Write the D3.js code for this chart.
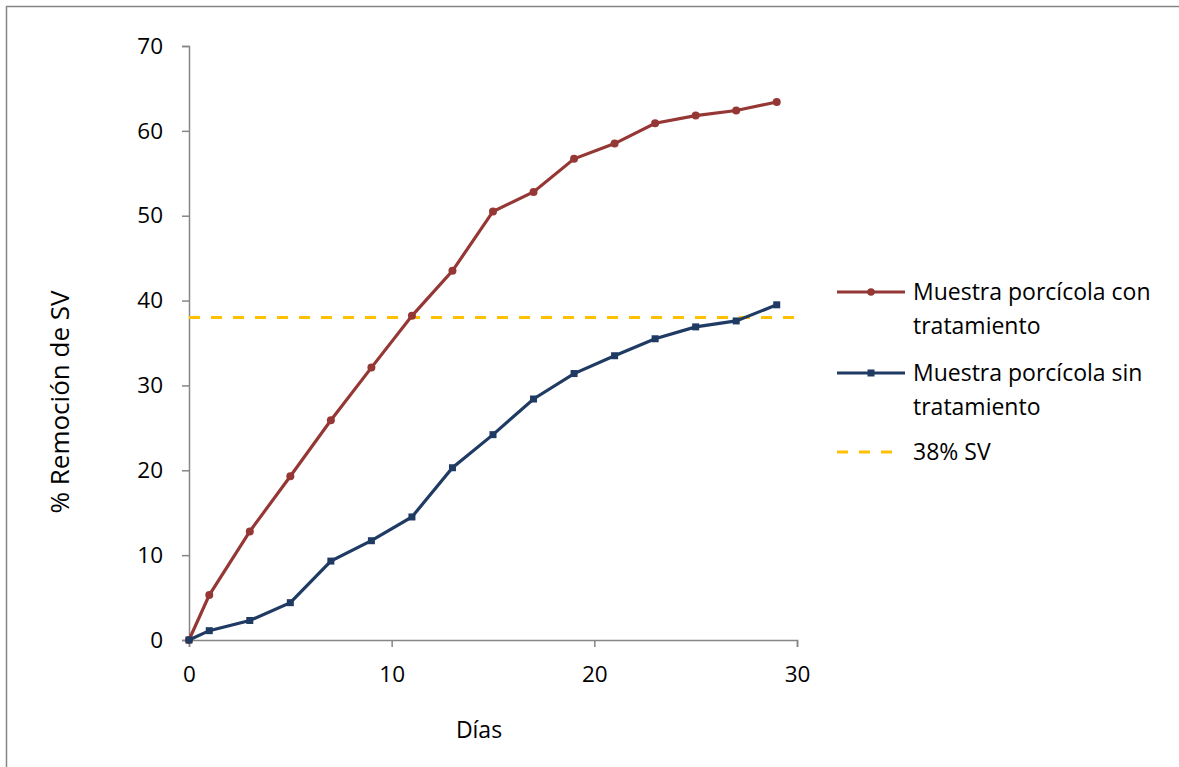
<!DOCTYPE html>
<html>
<head>
<meta charset="utf-8">
<script src="https://cdn.jsdelivr.net/npm/d3@7"></script>
<style>
  html, body { margin: 0; padding: 0; background: #fff; }
  svg { display: block; font-family: "Open Sans", Lato, sans-serif; }
</style>
</head>
<body>
<svg id="chart" width="1179" height="767"></svg>
<script>
// Days of sampling
const dias = [0, 1, 3, 5, 7, 9, 11, 13, 15, 17, 19, 21, 23, 25, 27, 29];
// % removal of volatile solids (SV)
const conTratamiento = [0, 5.3, 12.8, 19.3, 25.9, 32.1, 38.2, 43.5, 50.5, 52.8, 56.7, 58.5, 60.9, 61.8, 62.4, 63.4];
const sinTratamiento = [0, 1.1, 2.3, 4.4, 9.3, 11.7, 14.5, 20.3, 24.2, 28.4, 31.4, 33.5, 35.5, 36.9, 37.6, 39.5];
const umbral = 38;
const xTicks = [0, 10, 20, 30];
const yTicks = [0, 10, 20, 30, 40, 50, 60, 70];

const svg = d3.select("#chart");
const axisColor = "#868686";
const red = "#953735", blue = "#1F3B63", yellow = "#FFC000";

// outer chart border
svg.append("rect").attr("x", 6.5).attr("y", 6.5).attr("width", 1200).attr("height", 800)
  .attr("fill", "none").attr("stroke", axisColor).attr("stroke-width", 1.5);

const x = d3.scaleLinear().domain([0, 30]).range([189, 797]);
const y = d3.scaleLinear().domain([0, 70]).range([640, 46]);

// axes
const yAxis = svg.append("g").attr("transform", `translate(${x(0)},0)`)
  .call(d3.axisLeft(y).tickValues(yTicks).tickSize(7).tickPadding(19));
const xAxis = svg.append("g").attr("transform", `translate(0,${y(0)})`)
  .call(d3.axisBottom(x).tickValues(xTicks).tickSize(7).tickPadding(21));
[xAxis, yAxis].forEach(g => {
  g.select(".domain").attr("stroke", axisColor).attr("stroke-width", 1.5);
  g.selectAll(".tick line").attr("stroke", axisColor).attr("stroke-width", 1.5);
  g.selectAll(".tick text").attr("fill", "#000").style("font-size", "22.5px")
    .style("font-family", "'Open Sans', Lato, sans-serif");
});
xAxis.selectAll(".tick text").attr("dy", null).attr("y", 42);

// 38% SV reference line
svg.append("line")
  .attr("x1", x(0)).attr("x2", x(30.2))
  .attr("y1", y(umbral)).attr("y2", y(umbral))
  .attr("stroke", yellow).attr("stroke-width", 3)
  .attr("stroke-dasharray", "11,11");

const line = d3.line().x((d, i) => x(dias[i])).y(d => y(d));

// series with treatment (circle markers)
svg.append("path").datum(conTratamiento).attr("d", line)
  .attr("fill", "none").attr("stroke", red).attr("stroke-width", 3.2);
svg.selectAll(".pc").data(conTratamiento).enter().append("circle")
  .attr("cx", (d, i) => x(dias[i])).attr("cy", d => y(d)).attr("r", 4).attr("fill", red);

// series without treatment (square markers)
svg.append("path").datum(sinTratamiento).attr("d", line)
  .attr("fill", "none").attr("stroke", blue).attr("stroke-width", 3.2);
svg.selectAll(".ps").data(sinTratamiento).enter().append("rect")
  .attr("x", (d, i) => x(dias[i]) - 3.5).attr("y", d => y(d) - 3.5)
  .attr("width", 7).attr("height", 7).attr("fill", blue);

// axis titles
svg.append("text").attr("x", 479).attr("y", 738).attr("text-anchor", "middle")
  .style("font-size", "23px").text("Días");
svg.append("text").attr("transform", "translate(69,402) rotate(-90)")
  .attr("text-anchor", "middle").style("font-size", "26px").text("% Remoción de SV");

// legend
const legend = svg.append("g");
const lx1 = 837, lx2 = 905, tx = 913;
const rows = [
  { yLine: 292, color: red, marker: "circle", lines: ["Muestra porcícola con", "tratamiento"] },
  { yLine: 373, color: blue, marker: "square", lines: ["Muestra porcícola sin", "tratamiento"] },
  { yLine: 452, color: yellow, marker: "dash", lines: ["38% SV"] }
];
rows.forEach(r => {
  legend.append("line").attr("x1", lx1).attr("x2", r.marker === "dash" ? 893 : lx2)
    .attr("y1", r.yLine).attr("y2", r.yLine)
    .attr("stroke", r.color).attr("stroke-width", 3)
    .attr("stroke-dasharray", r.marker === "dash" ? "11,11" : null);
  if (r.marker === "circle") {
    legend.append("circle").attr("cx", (lx1 + lx2) / 2).attr("cy", r.yLine).attr("r", 3.8).attr("fill", r.color);
  } else if (r.marker === "square") {
    legend.append("rect").attr("x", (lx1 + lx2) / 2 - 3.5).attr("y", r.yLine - 3.5)
      .attr("width", 7).attr("height", 7).attr("fill", r.color);
  }
  const t = legend.append("text").attr("x", tx).attr("y", r.yLine + 8).style("font-size", "23px");
  r.lines.forEach((s, j) => t.append("tspan").attr("x", tx).attr("dy", j === 0 ? 0 : 34).text(s));
});
</script>
</body>
</html>
